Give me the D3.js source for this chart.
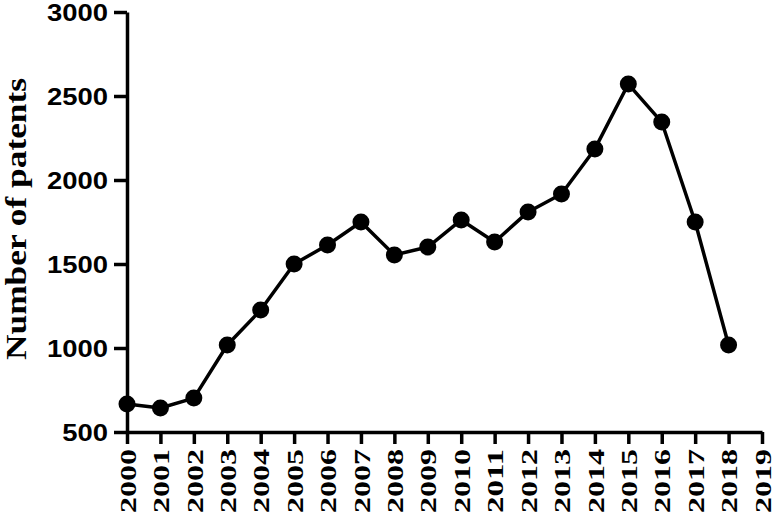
<!DOCTYPE html>
<html>
<head>
<meta charset="utf-8">
<script src="https://cdn.jsdelivr.net/npm/d3@7/dist/d3.min.js"></script>
<style>
  html, body { margin: 0; padding: 0; background: #fff; overflow: hidden; }
  svg { display: block; }
</style>
</head>
<body>
<svg id="chart" width="772" height="514"></svg>
<script>
const years = [2000, 2001, 2002, 2003, 2004, 2005, 2006, 2007, 2008, 2009,
               2010, 2011, 2012, 2013, 2014, 2015, 2016, 2017, 2018];
const patents = [667, 643, 702, 1018, 1226, 1500, 1613, 1750, 1554, 1601,
                 1762, 1631, 1810, 1917, 2185, 2571, 2345, 1750, 1018];
const xTicks = [2000, 2001, 2002, 2003, 2004, 2005, 2006, 2007, 2008, 2009,
                2010, 2011, 2012, 2013, 2014, 2015, 2016, 2017, 2018, 2019];
const yTicks = [500, 1000, 1500, 2000, 2500, 3000];
const yTitle = "Number of patents";

const data = years.map((y, i) => ({ year: y, value: patents[i] }));

const svg = d3.select("#chart");
const x = d3.scaleLinear().domain([2000, 2019]).range([127, 762]);
const y = d3.scaleLinear().domain([500, 3000]).range([432, 12]);

const serif = "'Liberation Serif', 'Times New Roman', Times, serif";
const sans = "'Liberation Sans', Arial, Helvetica, sans-serif";

// X axis
const xAxis = d3.axisBottom(x).tickValues(xTicks).tickSize(12).tickSizeOuter(0)
  .tickFormat(d3.format("d"));
const gx = svg.append("g").attr("transform", "translate(0,432)").call(xAxis);
gx.attr("font-family", null);
gx.select(".domain").attr("stroke", "#000").attr("stroke-width", 3.5);
gx.selectAll(".tick line").attr("stroke", "#000").attr("stroke-width", 3.5);
gx.selectAll(".tick text")
  .attr("transform", "rotate(-90)")
  .attr("x", -17).attr("y", 0).attr("dy", "0.34em")
  .attr("text-anchor", "end")
  .style("font-family", serif)
  .style("font-weight", "bold").style("font-size", "24px").attr("fill", "#000")
  .attr("textLength", 64).attr("lengthAdjust", "spacingAndGlyphs");

// Y axis
const yAxis = d3.axisLeft(y).tickValues(yTicks).tickSize(13).tickSizeOuter(0)
  .tickFormat(d3.format("d"));
const gy = svg.append("g").attr("transform", "translate(127,0)").call(yAxis);
gy.attr("font-family", null);
gy.select(".domain").attr("stroke", "#000").attr("stroke-width", 3.5);
gy.selectAll(".tick line").attr("stroke", "#000").attr("stroke-width", 3.5);
gy.selectAll(".tick text")
  .attr("x", -19).attr("dy", "0.36em")
  .style("font-family", sans)
  .style("font-weight", "bold").style("font-size", "24px").attr("fill", "#000")
  .attr("textLength", d => String(d).length * 15.25)
  .attr("lengthAdjust", "spacingAndGlyphs");

// Y title
svg.append("text")
  .attr("transform", "translate(26,219) rotate(-90)")
  .attr("text-anchor", "middle")
  .style("font-family", serif)
  .style("font-weight", "bold").style("font-size", "30px").attr("fill", "#000")
  .attr("textLength", 282).attr("lengthAdjust", "spacingAndGlyphs")
  .text(yTitle);

// Line
const line = d3.line().x(d => x(d.year)).y(d => y(d.value));
svg.append("path").datum(data)
  .attr("d", line).attr("fill", "none")
  .attr("stroke", "#000").attr("stroke-width", 3.5).attr("stroke-linejoin", "round");

// Points
svg.append("g").selectAll("circle").data(data).join("circle")
  .attr("cx", d => x(d.year)).attr("cy", d => y(d.value))
  .attr("r", 8.5).attr("fill", "#000");
</script>
</body>
</html>
